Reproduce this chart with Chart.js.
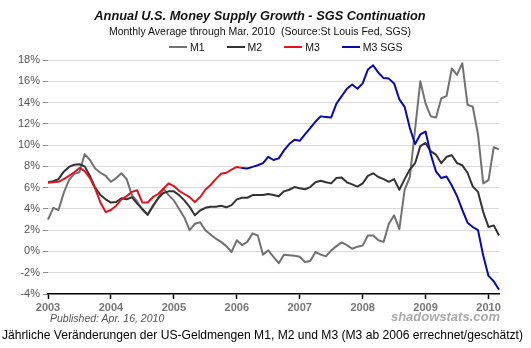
<!DOCTYPE html>
<html>
<head>
<meta charset="utf-8">
<script src="https://cdn.jsdelivr.net/npm/chart.js@4"></script>
<style>
    body { margin: 0; background: #fff; }
    #wrap { position: relative; width: 531px; height: 348px; font-family: 'Liberation Sans', Arial, sans-serif; }
    #chart { position: absolute; left: 0; top: 0; }
    .txt { position: absolute; white-space: nowrap; }
    #title { left: 0; width: 520px; top: 8px; text-align: center; font-size: 12.8px; font-weight: bold; font-style: italic; color: #111; }
    #subtitle { left: 0; width: 520px; top: 25px; text-align: center; font-size: 10.5px; color: #111; }
    #legend { left: 169px; top: 41px; font-size: 10.5px; color: #111; }
    #legend span.item { display: inline-block; margin-right: 22px; }
    #legend i { display: inline-block; width: 18px; height: 2px; vertical-align: middle; margin-right: 3px; position: relative; top: -1px; }
    #published { left: 50px; top: 312px; font-size: 10.5px; font-style: italic; color: #555; }
    #brand { right: 31px; top: 309px; font-size: 13px; font-weight: bold; font-style: italic; color: #aaa; }
    #note { left: 2px; top: 328px; font-size: 12.1px; color: #000; }
</style>
</head>
<body>
<div id="wrap">
    <canvas id="chart" width="531" height="348"></canvas>
    <div class="txt" id="title">Annual U.S. Money Supply Growth - SGS Continuation</div>
    <div class="txt" id="subtitle">Monthly Average through Mar. 2010&nbsp; (Source:St Louis Fed, SGS)</div>
    <div class="txt" id="legend"></div>
    <div class="txt" id="published">Published: Apr. 16, 2010</div>
    <div class="txt" id="brand">shadowstats.com</div>
    <div class="txt" id="note">Jährliche Veränderungen der US-Geldmengen M1, M2 und M3 (M3 ab 2006 errechnet/geschätzt)</div>
</div>
<script>
// tick labels on the x axis (January of each year)
const years = ['2003', '2004', '2005', '2006', '2007', '2008', '2009', '2010'];
const lastYearMonths = 3; // Jan..Mar 2010

// monthly growth in %, Jan 2003 .. Mar 2010
const m1 = [
    3.0, 4.1, 3.9, 5.5, 6.7, 7.3, 7.45, 9.15, 8.6, 7.8, 7.4, 7.1,
    6.55, 6.9, 7.35, 6.8, 5.3, 4.7, 3.9, 3.45, 4.2, 5.0, 5.9, 5.3,
    4.8, 4.0, 3.2, 2.0, 2.6, 2.75, 2.0, 1.6, 1.2, 0.9, 0.5, -0.05,
    1.05, 0.6, 0.9, 1.7, 1.5, -0.3, 0.1, -0.5, -1.1, -0.3, -0.35, -0.4,
    -0.5, -1.0, -0.9, -0.05, -0.3, -0.45, 0.1, 0.5, 0.85, 0.6, 0.25, 0.45,
    0.55, 1.5, 1.5, 1.05, 0.9, 2.6, 3.4, 2.1, 5.8, 7.0, 11.5, 16.0,
    13.9, 12.7, 12.6, 14.4, 14.6, 17.2, 16.6, 17.7, 13.8, 13.6, 11.0, 6.4,
    6.7, 9.8, 9.6
];
const m2 = [
    6.5, 6.6, 6.8, 7.5, 7.95, 8.15, 8.2, 8.0, 7.1, 6.0, 5.3, 4.9,
    4.6, 4.65, 5.0, 4.9, 5.1, 4.5, 4.0, 3.45, 4.3, 5.0, 5.5, 5.65,
    5.65, 5.3, 4.8, 4.2, 3.4, 3.85, 4.1, 4.2, 4.2, 4.3, 4.15, 4.35,
    4.9, 5.05, 5.05, 5.3, 5.3, 5.3, 5.4, 5.3, 5.2, 5.65, 5.8, 6.05,
    5.95, 5.85, 6.05, 6.5, 6.65, 6.5, 6.4, 6.9, 6.95, 6.5, 6.3, 6.1,
    6.4, 7.1, 7.35, 7.0, 6.8, 6.55, 6.8, 5.8, 6.8, 7.7, 8.3, 9.9,
    10.2, 9.4, 9.1, 8.3, 8.9, 9.05, 8.3, 8.1, 7.4, 6.1, 5.6, 3.7,
    2.3, 2.45, 1.5
];
// official M3, Jan 2003 .. Feb 2006
const m3 = [
    6.45, 6.5, 6.55, 6.8, 7.1, 7.45, 7.85, 7.55, 6.9, 5.9, 4.6, 3.7,
    3.9, 4.3, 4.9, 5.2, 5.6, 5.75, 4.6, 4.6, 5.1, 5.4, 5.9, 6.4,
    6.15, 5.7, 5.4, 5.1, 4.65, 5.1, 5.8, 6.25, 6.8, 7.3, 7.4, 7.7,
    7.95, 7.85
];
// SGS continuation, Feb 2006 .. Mar 2010
const m3sgs = [
    7.85, 7.8, 7.95, 8.1, 8.3, 8.9, 8.6, 8.75, 9.5, 10.1, 10.5,
    10.4, 11.0, 11.6, 12.2, 12.7, 12.65, 12.6, 13.9, 14.6, 15.3, 15.7, 15.3,
    15.8, 17.1, 17.5, 16.8, 16.3, 16.25, 15.8, 14.3, 13.6, 11.6, 10.1, 11.0,
    11.27, 9.1, 7.5, 6.9, 7.05, 6.2, 5.2, 3.9, 2.7, 2.3, 2.0, -0.4,
    -2.3, -2.8, -3.6
];
const yTicks = [-4, -2, 0, 2, 4, 6, 8, 10, 12, 14, 16, 18];

const seriesNames = ['M1', 'M2', 'M3', 'M3 SGS'];
const seriesColors = ['#727272', '#333333', '#e0141e', '#0a0aa8'];

// month labels
const labels = [];
years.forEach((y, yi) => {
    const n = yi === years.length - 1 ? lastYearMonths : 12;
    for (let m = 1; m <= n; m++) labels.push(y + '-' + String(m).padStart(2, '0'));
});
const total = labels.length;
const m3Full = m3.concat(new Array(total - m3.length).fill(null));
const sgsFull = new Array(total - m3sgs.length).fill(null).concat(m3sgs);

// legend
const legendEl = document.getElementById('legend');
seriesNames.forEach((name, i) => {
    legendEl.insertAdjacentHTML('beforeend',
        '<span class="item"><i style="background:' + seriesColors[i] + '"></i>' + name + '</span>');
});

const lineStyle = { borderWidth: 2, pointRadius: 0, tension: 0, fill: false, spanGaps: false, borderJoinStyle: 'round' };

new Chart(document.getElementById('chart').getContext('2d'), {
    type: 'line',
    data: {
        labels: labels,
        datasets: [
            Object.assign({ label: 'M3 SGS', data: sgsFull, borderColor: seriesColors[3] }, lineStyle),
            Object.assign({ label: 'M3', data: m3Full, borderColor: seriesColors[2] }, lineStyle),
            Object.assign({ label: 'M2', data: m2, borderColor: seriesColors[1] }, lineStyle),
            Object.assign({ label: 'M1', data: m1, borderColor: seriesColors[0] }, lineStyle)
        ]
    },
    options: {
        responsive: false,
        animation: false,
        layout: { padding: { top: 60, left: 0, right: 32, bottom: 0 } },
        plugins: {
            legend: { display: false },
            title: { display: false },
            tooltip: { enabled: false }
        },
        scales: {
            x: {
                type: 'category',
                offset: false,
                afterFit: (scale) => { scale.height = 54; },
                grid: {
                    drawOnChartArea: false,
                    drawTicks: true,
                    tickLength: 5,
                    tickColor: '#000',
                    tickWidth: 1.5
                },
                border: { display: true, color: '#000', width: 1.5 },
                ticks: {
                    autoSkip: false,
                    maxRotation: 0,
                    padding: 2,
                    color: '#777',
                    font: { family: 'Liberation Sans', size: 11, weight: 'bold' },
                    callback: function (val, idx) {
                        const l = labels[idx];
                        return l.endsWith('-01') ? l.slice(0, 4) : null;
                    }
                }
            },
            y: {
                min: yTicks[0],
                max: yTicks[yTicks.length - 1],
                afterFit: (scale) => { scale.width = 48; },
                afterBuildTicks: (scale) => { scale.ticks = yTicks.map(v => ({ value: v })); },
                grid: {
                    color: (ctx) => ctx.tick && ctx.tick.value === yTicks[0] ? 'rgba(0,0,0,0)' : '#d9d9d9',
                    tickColor: '#888',
                    tickLength: 5,
                    lineWidth: 1
                },
                border: { display: false },
                ticks: {
                    padding: 3,
                    color: '#555',
                    font: { family: 'Liberation Sans', size: 11 },
                    callback: (v) => v + '%'
                }
            }
        }
    }
});
</script>
</body>
</html>
